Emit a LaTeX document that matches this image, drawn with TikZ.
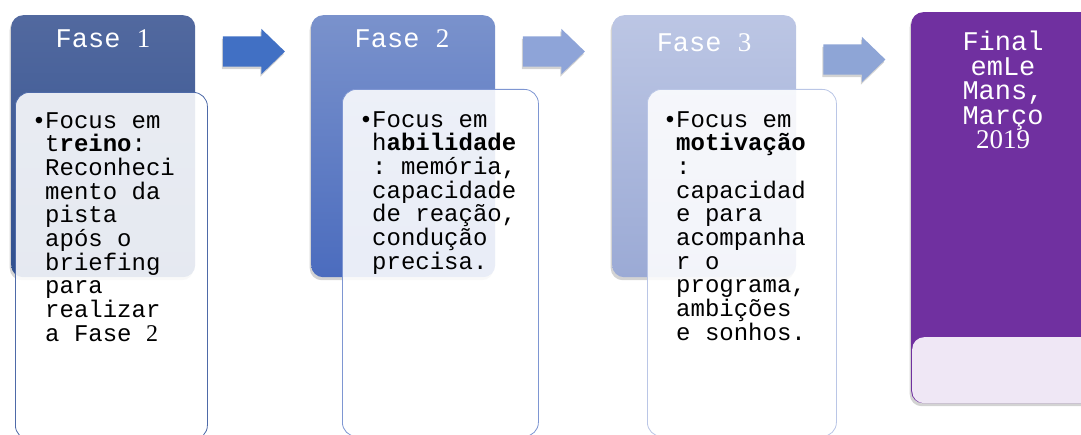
\documentclass[tikz,border=0pt]{standalone}
\usepackage{fontspec}
\setmainfont{Liberation Serif}
\setmonofont{Liberation Mono}
\newfontfamily\bulletfont{Liberation Sans}
\usetikzlibrary{shapes.arrows,shadows}

\definecolor{faseAtop}{HTML}{52699F}
\definecolor{faseAbot}{HTML}{30508F}
\definecolor{faseBtop}{HTML}{7A92CC}
\definecolor{faseBbot}{HTML}{4B6CBE}
\definecolor{faseCtop}{HTML}{BCC6E4}
\definecolor{faseCbot}{HTML}{9BAAD5}
\definecolor{linhaA}{HTML}{4E6AA8}
\definecolor{linhaB}{HTML}{7E96D2}
\definecolor{linhaC}{HTML}{BAC6E6}
\definecolor{setaA}{HTML}{4170C4}
\definecolor{setaB}{HTML}{8EA4D8}
\definecolor{setaC}{HTML}{8EA5D6}
\definecolor{roxo}{HTML}{7030A0}
\definecolor{lilas}{HTML}{EFE7F5}

\newcommand{\bul}{\llap{\bulletfont\textbullet\hspace{2pt}}}

\begin{document}
\begin{tikzpicture}[x=1pt, y=-1pt,
  fasebox/.style={rectangle, rounded corners=12pt, anchor=north west, inner sep=0pt,
    minimum width=184pt, minimum height=262pt,
    drop shadow={shadow xshift=-1.5pt, shadow yshift=-3pt, opacity=0.35}},
  detbox/.style={rectangle, rounded corners=14pt, anchor=north west, inner sep=0pt,
    fill=white, fill opacity=0.88, line width=0.8pt, minimum height=347pt},
  fasetext/.style={anchor=base, text=white, font=\fontsize{27}{24.5}\selectfont\ttfamily},
  dettext/.style={anchor=north west, align=left, inner sep=0pt,
    font=\fontsize{24}{23.7}\selectfont\ttfamily},
  passo/.style={single arrow, inner xsep=0pt, inner ysep=15pt, minimum height=62pt,
    single arrow head extend=7.5pt, single arrow tip angle=88,
    drop shadow={shadow xshift=-1pt, shadow yshift=-2.5pt, opacity=0.35}}]
\useasboundingbox (0,0) rectangle (1081,435);

%Fase 1
\node[fasebox, top color=faseAtop, bottom color=faseAbot] (fase1) at (11,15) {};
\node[fasetext] (fase1t) at (103,48) {Fase {\rmfamily 1}};
\node[detbox, draw=linhaA, minimum width=192pt] (det1) at (15,92) {};
\node[dettext] (det1t) at (45,112) {\bul Focus em\\t\textbf{reino}:\\Reconheci\\mento da\\pista\\após o\\briefing\\para\\realizar\\a Fase {\rmfamily 2}};

%Fase 2
\node[fasebox, top color=faseBtop, bottom color=faseBbot] (fase2) at (311,15) {};
\node[fasetext] (fase2t) at (402,48) {Fase {\rmfamily 2}};
\node[detbox, draw=linhaB, minimum width=196pt] (det2) at (342,89) {};
\node[dettext] (det2t) at (372,111) {\bul Focus em\\h\textbf{abilidade}\\: memória,\\capacidade\\de reação,\\condução\\precisa.};

%Fase 3
\node[fasebox, top color=faseCtop, bottom color=faseCbot] (fase3) at (612,15) {};
\node[fasetext] (fase3t) at (704,52) {Fase {\rmfamily 3}};
\node[detbox, draw=linhaC, minimum width=189pt] (det3) at (647,89) {};
\node[dettext] (det3t) at (676,111) {\bul Focus em\\\textbf{motivação}\\:\\capacidad\\e para\\acompanha\\r o\\programa,\\ambições\\e sonhos.};

%Final
\node[fasebox, fill=roxo, minimum height=391pt] (final) at (911,12) {};
\node[rectangle, rounded corners=12pt, anchor=north west, fill=lilas, inner sep=0pt,
  minimum width=184pt, minimum height=66pt] (finaldet) at (912,337) {};
\node[anchor=north, align=center, inner sep=0pt, text=white,
  font=\fontsize{27}{24.5}\selectfont\ttfamily] (finalt) at (1003,31) {Final\\emLe\\Mans,\\Março\\{\rmfamily 2019}};

%setas
\foreach \i/\x/\y/\c in {1/246/51.5/setaA, 2/546/51.5/setaB, 3/846.5/59.5/setaC}
{ \node[passo, fill=\c] (seta\i) at (\x,\y) {}; }
\end{tikzpicture}
\end{document}
